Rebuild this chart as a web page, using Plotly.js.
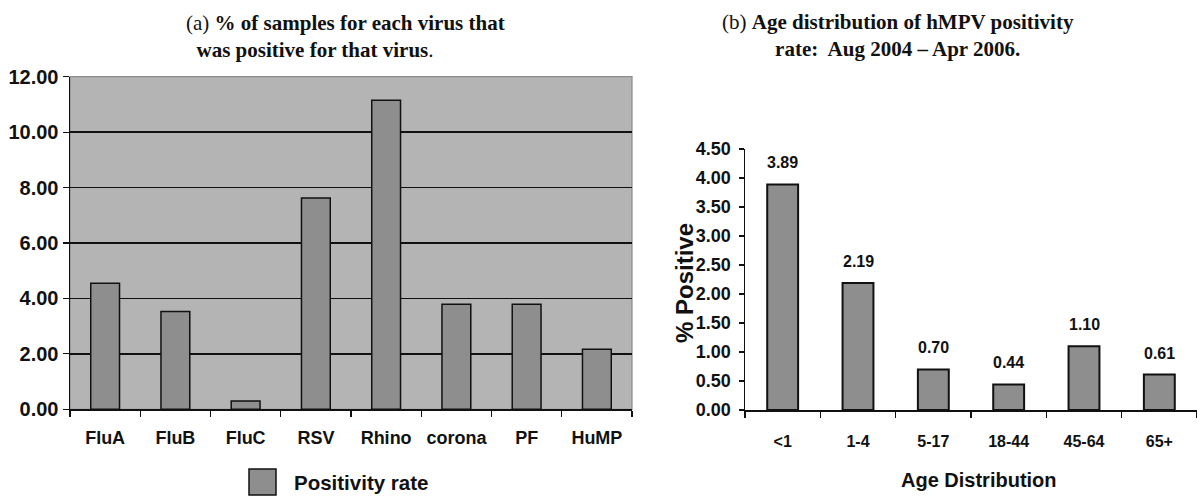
<!DOCTYPE html>
<html>
<head>
<meta charset="utf-8">
<script src="https://cdn.plot.ly/plotly-3.0.1.min.js"></script>
<style>html,body{margin:0;padding:0;background:#fff;}#chart{width:1197px;height:496px;}</style>
</head>
<body>
<div id="chart"></div>
<script>
// Panel (a)
const virusCategories = ['FluA', 'FluB', 'FluC', 'RSV', 'Rhino', 'corona', 'PF', 'HuMP'];
const positivityRate = [4.55, 3.53, 0.30, 7.62, 11.15, 3.79, 3.79, 2.17];
const seriesNameA = 'Positivity rate';
const yTicksA = [0, 2, 4, 6, 8, 10, 12];
const titleA = '(a) <b>% of samples for each virus that</b><br>&nbsp;&nbsp;<b>was positive for that virus</b>.';

// Panel (b)
const ageGroups = ['<1', '1-4', '5-17', '18-44', '45-64', '65+'];
const hmpvPositive = [3.89, 2.19, 0.70, 0.44, 1.10, 0.61];
const yTicksB = [0, 0.5, 1, 1.5, 2, 2.5, 3, 3.5, 4, 4.5];
const titleB = '(b) <b>Age distribution of hMPV positivity</b><br><b>rate:  Aug 2004 \u2013 Apr 2006.</b>';
const yTitleB = '% Positive';
const xTitleB = 'Age Distribution';

const W = 1197, H = 496;
const px = v => v / W;
const py = v => 1 - v / H;

const sans = 'Liberation Sans, Arial, sans-serif';
const serif = 'Liberation Serif, Times New Roman, serif';
const ink = '#111';

const traces = [
  {
    type: 'bar', x: virusCategories, y: positivityRate, xaxis: 'x', yaxis: 'y',
    name: seriesNameA, width: 0.41,
    marker: {color: '#8e8e8e', line: {color: ink, width: 1.5}},
    showlegend: false, hoverinfo: 'x+y'
  },
  {
    type: 'bar', x: ageGroups, y: hmpvPositive, xaxis: 'x2', yaxis: 'y2',
    name: 'hMPV', width: 0.41,
    marker: {color: '#8e8e8e', line: {color: ink, width: 2}},
    showlegend: false, hoverinfo: 'x+y'
  }
];

const annotations = [
  {text: titleA, xref: 'paper', yref: 'paper', x: px(184), y: py(36), xanchor: 'left', yanchor: 'middle',
   showarrow: false, font: {family: serif, size: 21, color: ink}, align: 'left'},
  {text: titleB, xref: 'paper', yref: 'paper', x: px(898), y: py(35), xanchor: 'center', yanchor: 'middle',
   showarrow: false, font: {family: serif, size: 21, color: ink}, align: 'center'},
  {text: seriesNameA, xref: 'paper', yref: 'paper', x: px(292), y: py(482), xanchor: 'left', yanchor: 'middle',
   showarrow: false, font: {family: sans, size: 20.5, color: ink, weight: 'bold'}},
  {text: yTitleB, xref: 'paper', yref: 'paper', x: px(684), y: py(283), xanchor: 'center', yanchor: 'middle',
   textangle: -90, showarrow: false, font: {family: sans, size: 24, color: ink, weight: 'bold'}},
  {text: xTitleB, xref: 'paper', yref: 'paper', x: px(979), y: py(480), xanchor: 'center', yanchor: 'middle',
   showarrow: false, font: {family: sans, size: 20, color: ink, weight: 'bold'}}
];
ageGroups.forEach((g, i) => {
  annotations.push({
    text: hmpvPositive[i].toFixed(2), x: g, y: hmpvPositive[i], xref: 'x2', yref: 'y2',
    xanchor: 'center', yanchor: 'bottom', yshift: 11, showarrow: false,
    font: {family: sans, size: 16, color: ink, weight: 'bold'}
  });
});

const shapes = [
  {type: 'rect', xref: 'x domain', yref: 'y domain', x0: 0, x1: 1, y0: 0, y1: 1,
   fillcolor: '#b4b4b4', line: {color: '#8a8a8a', width: 1.2}, layer: 'below'},
  {type: 'rect', xref: 'paper', yref: 'paper', x0: px(249), x1: px(276), y0: py(495), y1: py(469),
   fillcolor: '#8e8e8e', line: {color: ink, width: 1.5}}
];

const tickFont = (s) => ({family: sans, size: s, color: ink, weight: 'bold'});

const layout = {
  width: W, height: H,
  margin: {l: 0, r: 0, t: 0, b: 0},
  paper_bgcolor: '#fff', plot_bgcolor: 'rgba(0,0,0,0)',
  showlegend: false,
  xaxis: {
    domain: [px(70), px(632)], anchor: 'y', type: 'category',
    showline: true, linecolor: ink, linewidth: 1.5,
    ticks: 'outside', ticklen: 6, tickcolor: ink, tickwidth: 1.2,
    tickson: 'boundaries', showgrid: false, zeroline: false,
    tickfont: tickFont(18), ticklabelstandoff: 12
  },
  yaxis: {
    domain: [py(409.3), py(76.7)], anchor: 'x', range: [0, 12],
    tickvals: yTicksA, tickformat: '.2f',
    showline: true, linecolor: ink, linewidth: 1.5,
    ticks: 'outside', ticklen: 6, tickcolor: ink, tickwidth: 1.2,
    showgrid: true, gridcolor: ink, gridwidth: 1.5, zeroline: false,
    tickfont: tickFont(20)
  },
  xaxis2: {
    domain: [px(745), px(1197)], anchor: 'y2', type: 'category',
    showline: true, linecolor: ink, linewidth: 1.5,
    ticks: 'outside', ticklen: 6, tickcolor: ink, tickwidth: 1.2,
    tickson: 'boundaries', showgrid: false, zeroline: false,
    tickfont: tickFont(16), ticklabelstandoff: 16
  },
  yaxis2: {
    domain: [py(410), py(149)], anchor: 'x2', range: [0, 4.5],
    tickvals: yTicksB, tickformat: '.2f',
    showline: true, linecolor: ink, linewidth: 1.5,
    ticks: 'outside', ticklen: 5, tickcolor: ink, tickwidth: 1.2,
    showgrid: false, zeroline: false,
    tickfont: tickFont(18), ticklabelstandoff: 4
  },
  annotations: annotations,
  shapes: shapes
};

Plotly.newPlot('chart', traces, layout, {displayModeBar: false, staticPlot: true});
</script>
</body>
</html>
